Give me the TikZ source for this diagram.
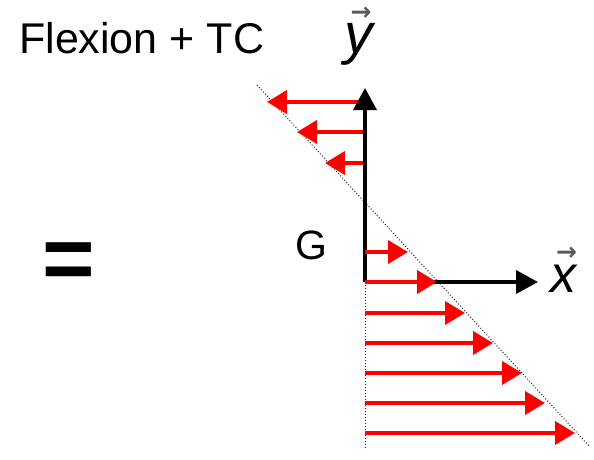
\documentclass[tikz,border=0pt]{standalone}
\usepackage{fontspec}
\setmainfont{Liberation Sans}
\newfontfamily\arrowfont{DejaVu Sans}
\usetikzlibrary{arrows.meta}
\newcommand{\vecarrow}[3]{% #1 raise, #2 box width, #3 shift
  \llap{\raisebox{#1}{\makebox[#2][c]{\hspace*{#3}\color{black!65}\arrowfont\bfseries\fontsize{25}{25}\selectfont →}}}}
\tikzset{
  lbl/.style={inner sep=0pt, anchor=base west, text=black},
  axis/.style={line width=3.6pt, draw=black, -{Triangle[length=22pt,width=23pt]}},
  force/.style={line width=4pt, draw=red, -{Triangle[length=20pt,width=23pt]}},
  guide/.style={line width=1pt, draw=black!85, dotted},
}
\begin{document}
\begin{tikzpicture}[x=1pt,y=-1pt]
\useasboundingbox (0,0) rectangle (594,459);
% labels
\node[lbl] (title) at (19,53) {\fontsize{43}{50}\selectfont Flexion + TC};
\node[lbl] (eq) at (42,289) {\fontsize{90}{95}\selectfont\bfseries =};
\node[lbl] (G) at (295,259) {\fontsize{41}{46}\selectfont G};
\node[lbl] (ylab) at (344,53) {\fontsize{57}{62}\selectfont\itshape y\vecarrow{33pt}{29pt}{6pt}};
\node[lbl] (xlab) at (550,292) {\fontsize{52}{58}\selectfont\itshape x\vecarrow{32pt}{26pt}{7pt}};
% coordinates
\coordinate (O) at (365,282);
\coordinate (ytip) at (365,88);
\coordinate (xtip) at (538,282);
\coordinate (vbot) at (365,450);
\coordinate (d1) at (257,85);
\coordinate (d2) at (590,447);
% guides
\draw[guide] (O) -- (vbot);
\draw[guide] (d1) -- (d2);
% top (compression) arrows
\foreach \yy/\xx [count=\i] in {102/267,132/297,163/325}{
  \coordinate (ts\i) at (365,\yy);
  \coordinate (te\i) at (\xx,\yy);
  \draw[force] (ts\i) -- (te\i);
}
% axes
\draw[axis] (O) -- (ytip);
\draw[axis] (O) -- (xtip);
% bottom (tension) arrows
\foreach \yy/\xx [count=\i] in {252/408,282/437,313/465,343/493,373/522,403/545,433/575}{
  \coordinate (bs\i) at (365,\yy);
  \coordinate (be\i) at (\xx,\yy);
  \draw[force] (bs\i) -- (be\i);
}
\end{tikzpicture}
\end{document}
